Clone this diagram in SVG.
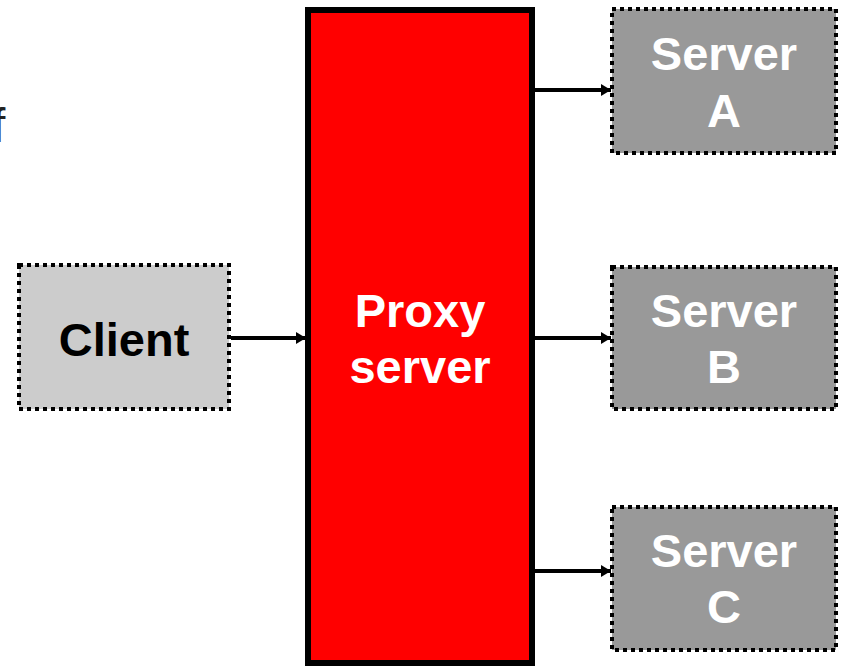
<svg xmlns="http://www.w3.org/2000/svg" width="843" height="667" viewBox="0 0 843 667">
<defs>
<marker id="ah" viewBox="0 0 10 12" refX="10" refY="6" markerWidth="10" markerHeight="12" markerUnits="userSpaceOnUse" orient="auto">
<path d="M0,0 L10,6 L0,12 Z" fill="#000"/>
</marker>
</defs>
<style>
.box{stroke:#000;stroke-width:4;stroke-dasharray:4 4}
.t{font-family:"Liberation Sans",Arial,sans-serif;font-weight:bold;font-size:47px;text-anchor:middle}
.w{fill:#fff}
.conn{stroke:#000;stroke-width:4;fill:none;marker-end:url(#ah)}
</style>
<rect width="843" height="667" fill="#fff"/>
<text x="-8" y="142" font-family="Liberation Sans, Arial, sans-serif" font-size="48" fill="#222">f</text>
<g id="proxy">
<rect x="308" y="10" width="224" height="653" fill="#ff0000" stroke="#000" stroke-width="6"/>
<text class="t w" x="420" y="327">Proxy</text>
<text class="t w" x="420" y="383">server</text>
</g>
<g id="client">
<rect class="box" x="19" y="265" width="210" height="144" fill="#cccccc"/>
<text class="t" x="124" y="356" fill="#000">Client</text>
</g>
<g id="serverA">
<rect class="box" x="612" y="9" width="224" height="144" fill="#999999"/>
<text class="t w" x="724" y="70">Server</text>
<text class="t w" x="724" y="127">A</text>
</g>
<g id="serverB">
<rect class="box" x="612" y="267" width="224" height="142" fill="#999999"/>
<text class="t w" x="724" y="327">Server</text>
<text class="t w" x="724" y="383">B</text>
</g>
<g id="serverC">
<rect class="box" x="612" y="507" width="224" height="143" fill="#999999"/>
<text class="t w" x="724" y="567">Server</text>
<text class="t w" x="724" y="623">C</text>
</g>
<g id="connectors">
<line class="conn" x1="231" y1="338" x2="306" y2="338"/>
<line class="conn" x1="535" y1="90" x2="611" y2="90"/>
<line class="conn" x1="535" y1="338" x2="611" y2="338"/>
<line class="conn" x1="535" y1="571" x2="611" y2="571"/>
</g>
</svg>
